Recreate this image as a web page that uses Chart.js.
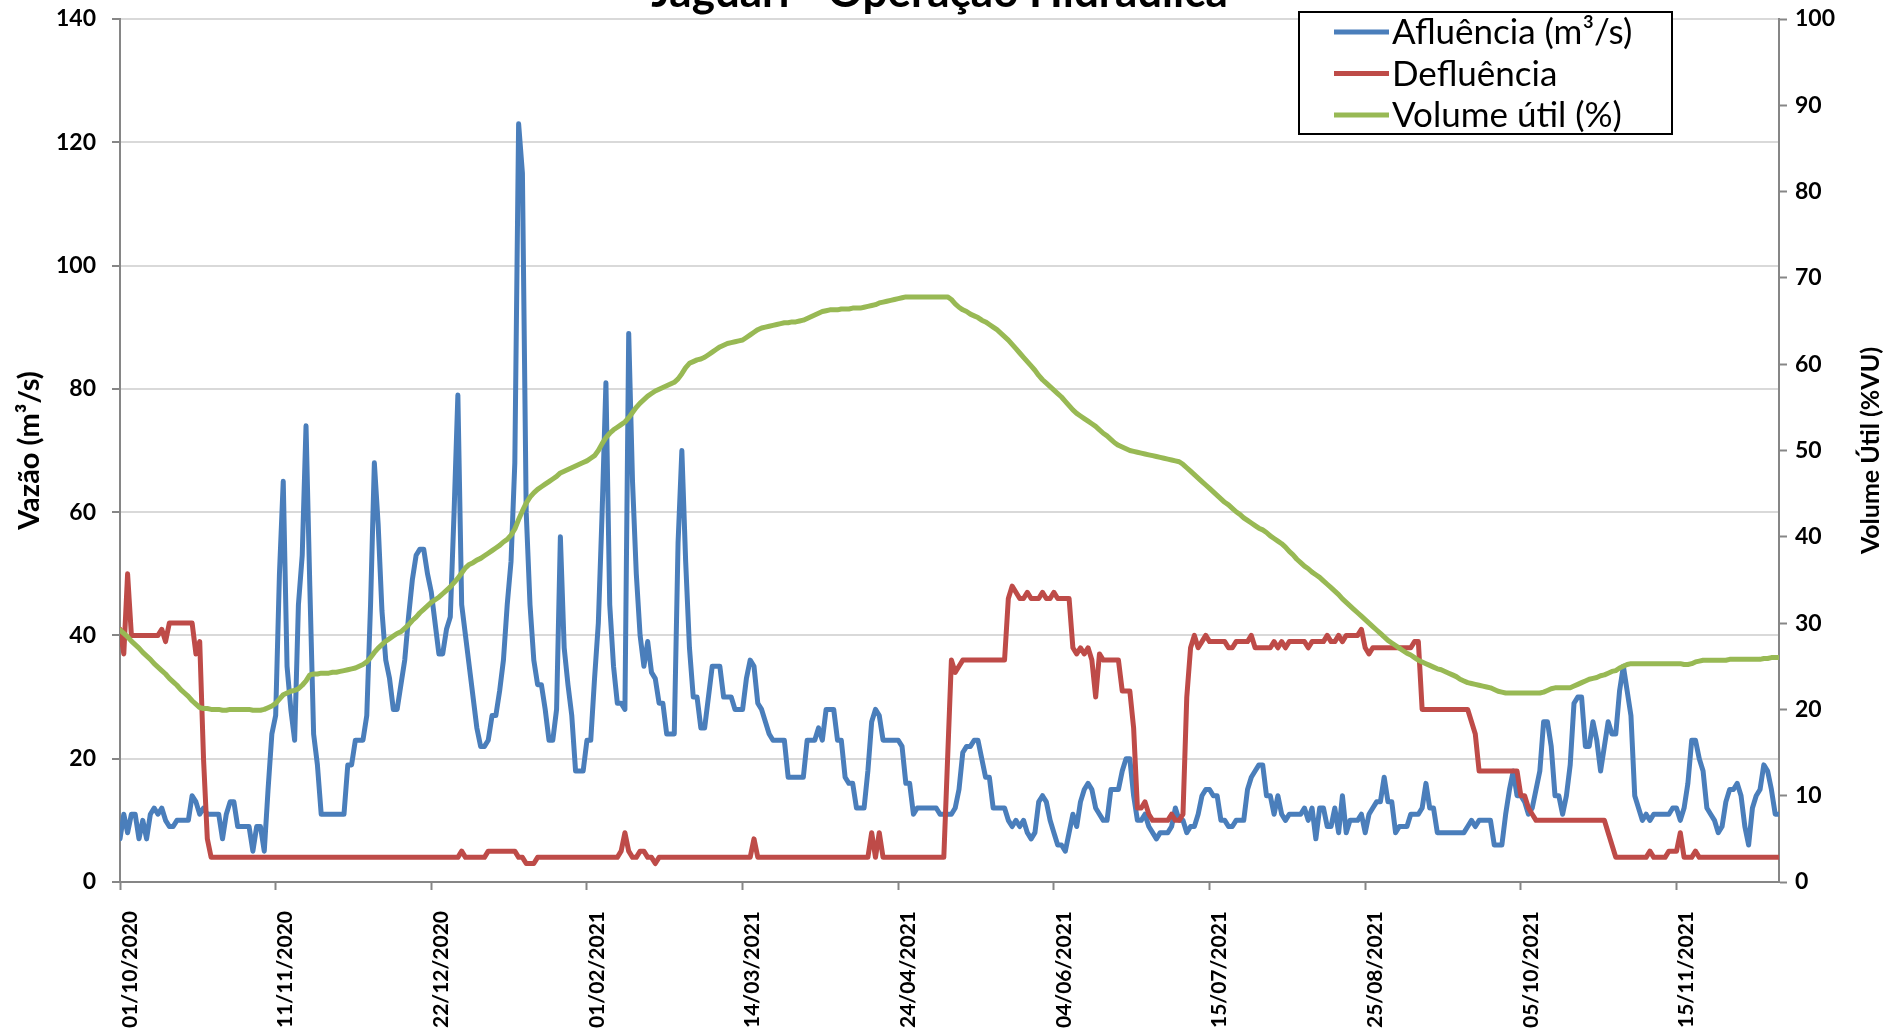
<!DOCTYPE html>
<html><head><meta charset="utf-8">
<script src="https://cdn.jsdelivr.net/npm/chart.js@4.4.1/dist/chart.umd.min.js"></script>
<style>html,body{margin:0;padding:0;background:#fff;overflow:hidden}#wrap{position:relative;width:1889px;height:1032px}</style>
</head><body><div id="wrap"><canvas id="c" width="1889" height="1032"></canvas></div>
<script>
const chartTitle = 'Jaguari - Operação Hidráulica';
const seriesNames = ['Afluência (m³/s)', 'Defluência', 'Volume útil (%)'];
const leftAxisTitle = 'Vazão (m³/s)';
const rightAxisTitle = 'Volume Útil (%VU)';
const xTickDays = [0, 41, 82, 123, 164, 205, 246, 287, 328, 369, 410];
const xTickLabels = ['01/10/2020','11/11/2020','22/12/2020','01/02/2021','14/03/2021','24/04/2021','04/06/2021','15/07/2021','25/08/2021','05/10/2021','15/11/2021'];
const leftTicksMax = 140, leftStep = 20, rightTicksMax = 100, rightStep = 10;

const afluencia = [
7,11,8,11,11,7,10,7,11,12,
11,12,10,9,9,10,10,10,10,14,
13,11,12,11,11,11,11,7,11,13,
13,9,9,9,9,5,9,9,5,15,
24,27,50,65,35,28,23,45,53,74,
48,24,19,11,11,11,11,11,11,11,
19,19,23,23,23,27,45,68,58,44,
36,33,28,28,32,36,43,49,53,54,
54,50,47,42,37,37,41,43,60,79,
45,40,35,30,25,22,22,23,27,27,
31,36,45,52,68,123,115,60,45,36,
32,32,28,23,23,28,56,38,32,27,
18,18,18,23,23,33,42,60,81,45,
35,29,29,28,89,65,50,40,35,39,
34,33,29,29,24,24,24,55,70,52,
38,30,30,25,25,30,35,35,35,30,
30,30,28,28,28,33,36,35,29,28,
26,24,23,23,23,23,17,17,17,17,
17,23,23,23,25,23,28,28,28,23,
23,17,16,16,12,12,12,18,26,28,
27,23,23,23,23,23,22,16,16,11,
12,12,12,12,12,12,11,11,11,11,
12,15,21,22,22,23,23,20,17,17,
12,12,12,12,10,9,10,9,10,8,
7,8,13,14,13,10,8,6,6,5,
8,11,9,13,15,16,15,12,11,10,
10,15,15,15,18,20,20,14,10,10,
11,9,8,7,8,8,8,9,12,10,
10,8,9,9,11,14,15,15,14,14,
10,10,9,9,10,10,10,15,17,18,
19,19,14,14,11,14,11,10,11,11,
11,11,12,10,12,7,12,12,9,9,
12,8,14,8,10,10,10,11,8,11,
12,13,13,17,13,13,8,9,9,9,
11,11,11,12,16,12,12,8,8,8,
8,8,8,8,8,9,10,9,10,10,
10,10,6,6,6,11,15,18,14,14,
13,11,12,15,18,26,26,22,14,14,
11,14,19,29,30,30,22,22,26,23,
18,22,26,24,24,31,35,31,27,14,
12,10,11,10,11,11,11,11,11,12,
12,10,12,16,23,23,20,18,12,11,
10,8,9,13,15,15,16,14,9,6,
12,14,15,19,18,15,11,11
];

const defluencia = [
41,37,50,40,40,40,40,40,40,40,
40,41,39,42,42,42,42,42,42,42,
37,39,20,7,4,4,4,4,4,4,
4,4,4,4,4,4,4,4,4,4,
4,4,4,4,4,4,4,4,4,4,
4,4,4,4,4,4,4,4,4,4,
4,4,4,4,4,4,4,4,4,4,
4,4,4,4,4,4,4,4,4,4,
4,4,4,4,4,4,4,4,4,4,
5,4,4,4,4,4,4,5,5,5,
5,5,5,5,5,4,4,3,3,3,
4,4,4,4,4,4,4,4,4,4,
4,4,4,4,4,4,4,4,4,4,
4,4,5,8,5,4,4,5,5,4,
4,3,4,4,4,4,4,4,4,4,
4,4,4,4,4,4,4,4,4,4,
4,4,4,4,4,4,4,7,4,4,
4,4,4,4,4,4,4,4,4,4,
4,4,4,4,4,4,4,4,4,4,
4,4,4,4,4,4,4,4,8,4,
8,4,4,4,4,4,4,4,4,4,
4,4,4,4,4,4,4,4,20,36,
34,35,36,36,36,36,36,36,36,36,
36,36,36,36,46,48,47,46,46,47,
46,46,46,47,46,46,47,46,46,46,
46,38,37,38,37,38,36,30,37,36,
36,36,36,36,31,31,31,25,12,12,
13,11,10,10,10,10,10,11,10,10,
11,30,38,40,38,39,40,39,39,39,
39,39,38,38,39,39,39,39,40,38,
38,38,38,38,39,38,39,38,39,39,
39,39,39,38,39,39,39,39,40,39,
39,40,39,40,40,40,40,41,38,37,
38,38,38,38,38,38,38,38,38,38,
38,39,39,28,28,28,28,28,28,28,
28,28,28,28,28,28,26,24,18,18,
18,18,18,18,18,18,18,18,18,14,
14,12,11,10,10,10,10,10,10,10,
10,10,10,10,10,10,10,10,10,10,
10,10,8,6,4,4,4,4,4,4,
4,4,4,5,4,4,4,4,5,5,
5,8,4,4,4,5,4,4,4,4,
4,4,4,4,4,4,4,4,4,4,
4,4,4,4,4,4,4,4
];

const volumeUtil = [
29.2,28.8,28.4,27.9,27.5,27.1,26.6,26.2,25.8,25.3,
24.9,24.5,24.1,23.6,23.2,22.8,22.3,21.9,21.5,21.0,
20.6,20.2,20.1,20.1,20.0,20.0,20.0,19.9,19.9,20.0,
20.0,20.0,20.0,20.0,20.0,19.9,19.9,19.9,20.0,20.2,
20.4,20.7,21.2,21.7,21.9,22.1,22.2,22.4,22.8,23.3,
24.0,24.1,24.1,24.2,24.2,24.2,24.3,24.3,24.4,24.5,
24.6,24.7,24.8,25.0,25.2,25.5,26.0,26.6,27.1,27.5,
27.9,28.2,28.5,28.8,29.0,29.4,29.8,30.3,30.7,31.2,
31.6,32.0,32.4,32.7,33.0,33.4,33.8,34.2,34.7,35.2,
35.8,36.4,36.8,37.0,37.3,37.5,37.8,38.1,38.4,38.7,
39.0,39.4,39.7,40.2,40.9,42.0,43.0,43.9,44.6,45.1,
45.5,45.8,46.1,46.4,46.7,47.0,47.4,47.6,47.8,48.0,
48.2,48.4,48.6,48.8,49.1,49.4,50.0,50.8,51.5,52.0,
52.4,52.7,53.0,53.3,53.8,54.4,55.0,55.5,55.9,56.3,
56.6,56.9,57.1,57.3,57.5,57.7,57.9,58.3,58.9,59.6,
60.1,60.3,60.5,60.6,60.8,61.1,61.4,61.7,62.0,62.2,
62.4,62.5,62.6,62.7,62.8,63.1,63.4,63.7,64.0,64.2,
64.3,64.4,64.5,64.6,64.7,64.8,64.8,64.9,64.9,65.0,
65.1,65.3,65.5,65.7,65.9,66.1,66.2,66.3,66.3,66.3,
66.4,66.4,66.4,66.5,66.5,66.5,66.6,66.7,66.8,66.9,
67.1,67.2,67.3,67.4,67.5,67.6,67.7,67.8,67.8,67.8,
67.8,67.8,67.8,67.8,67.8,67.8,67.8,67.8,67.8,67.5,
67.0,66.6,66.3,66.1,65.8,65.6,65.4,65.1,64.9,64.6,
64.3,64.0,63.6,63.2,62.8,62.3,61.8,61.3,60.8,60.3,
59.8,59.3,58.7,58.2,57.8,57.4,57.0,56.6,56.2,55.7,
55.2,54.7,54.3,54.0,53.7,53.4,53.1,52.8,52.4,52.0,
51.7,51.3,50.9,50.6,50.4,50.2,50.0,49.9,49.8,49.7,
49.6,49.5,49.4,49.3,49.2,49.1,49.0,48.9,48.8,48.7,
48.4,48.0,47.6,47.2,46.8,46.4,46.0,45.6,45.2,44.8,
44.4,44.0,43.7,43.3,42.9,42.6,42.2,41.9,41.6,41.3,
41.0,40.8,40.5,40.1,39.8,39.5,39.2,38.8,38.3,37.9,
37.4,37.0,36.6,36.3,35.9,35.6,35.3,34.9,34.5,34.1,
33.7,33.3,32.8,32.4,32.0,31.6,31.2,30.8,30.4,30.0,
29.6,29.2,28.8,28.4,28.0,27.7,27.4,27.1,26.8,26.5,
26.3,26.0,25.7,25.5,25.3,25.1,24.9,24.7,24.6,24.4,
24.2,24.0,23.8,23.5,23.3,23.1,23.0,22.9,22.8,22.7,
22.6,22.5,22.3,22.1,22.0,21.9,21.9,21.9,21.9,21.9,
21.9,21.9,21.9,21.9,21.9,22.0,22.2,22.4,22.5,22.5,
22.5,22.5,22.5,22.7,22.9,23.1,23.3,23.5,23.6,23.7,
23.9,24.0,24.2,24.4,24.5,24.8,25.0,25.2,25.3,25.3,
25.3,25.3,25.3,25.3,25.3,25.3,25.3,25.3,25.3,25.3,
25.3,25.3,25.2,25.2,25.3,25.5,25.6,25.7,25.7,25.7,
25.7,25.7,25.7,25.7,25.8,25.8,25.8,25.8,25.8,25.8,
25.8,25.8,25.8,25.9,25.9,26.0,26.0,26.0
];

const seriesColors = ['#4a7ebb', '#be4b48', '#98b954'];
const dayIndex = afluencia.map((_, i) => i);
const AXIS_GRAY = '#868686';
const GRID_GRAY = '#d9d9d9';
const FONT = 'Lato, "Open Sans", sans-serif';

Chart.defaults.font.family = FONT;

const decor = {
  id: 'decor',
  afterDraw(chart) {
    const {ctx, chartArea} = chart;
    ctx.save();
    ctx.fillStyle = '#000';
    ctx.font = 'bold 44px ' + FONT;
    ctx.textAlign = 'center';
    ctx.textBaseline = 'alphabetic';
    ctx.fillText(chartTitle, chart.width / 2 - 5, 7);

    ctx.save();
    ctx.translate(chart.width - 18, (chartArea.top + chartArea.bottom) / 2);
    ctx.rotate(-Math.PI / 2);
    ctx.font = 'bold 25px ' + FONT;
    ctx.textAlign = 'center';
    ctx.textBaseline = 'middle';
    ctx.fillText(rightAxisTitle, 0, 0);
    ctx.restore();

    const bx = 1299, by = 12, bw = 373, bh = 122;
    ctx.fillStyle = '#fff';
    ctx.fillRect(bx, by, bw, bh);
    ctx.strokeStyle = '#000';
    ctx.lineWidth = 2;
    ctx.strokeRect(bx, by, bw, bh);
    ctx.font = '35px ' + FONT;
    ctx.textAlign = 'left';
    ctx.textBaseline = 'middle';
    seriesNames.forEach((name, i) => {
      const yy = by + 20 + i * 41.5;
      ctx.strokeStyle = seriesColors[i];
      ctx.lineWidth = 5;
      ctx.lineCap = 'butt';
      ctx.beginPath();
      ctx.moveTo(bx + 35, yy);
      ctx.lineTo(bx + 90, yy);
      ctx.stroke();
      ctx.fillStyle = '#000';
      ctx.fillText(name, bx + 93, yy + 1);
    });
    ctx.restore();
  }
};

const noVertPad = s => { s.paddingTop = 0; s.paddingBottom = 0; };

new Chart(document.getElementById('c'), {
  type: 'line',
  data: {
    labels: dayIndex,
    datasets: [
      {label: seriesNames[0], data: afluencia, borderColor: seriesColors[0], backgroundColor: seriesColors[0], yAxisID: 'y', order: 2},
      {label: seriesNames[1], data: defluencia, borderColor: seriesColors[1], backgroundColor: seriesColors[1], yAxisID: 'y', order: 1},
      {label: seriesNames[2], data: volumeUtil, borderColor: seriesColors[2], backgroundColor: seriesColors[2], yAxisID: 'y1', order: 0}
    ]
  },
  options: {
    responsive: false,
    animation: false,
    layout: {padding: {top: 19, left: 0, right: 0, bottom: 0}},
    elements: {
      point: {radius: 0, hoverRadius: 0},
      line: {borderWidth: 5, tension: 0, borderJoinStyle: 'round', borderCapStyle: 'round', fill: false}
    },
    plugins: {legend: {display: false}, tooltip: {enabled: false}, title: {display: false}},
    scales: {
      x: {
        type: 'linear', min: 0, max: dayIndex.length - 1,
        afterBuildTicks: s => { s.ticks = xTickDays.map(v => ({value: v})); },
        afterFit: s => { s.height = 150; s.paddingLeft = 0; s.paddingRight = 0; },
        grid: {drawOnChartArea: false, drawTicks: true, tickLength: 8, tickColor: AXIS_GRAY, tickWidth: 2},
        border: {display: true, color: AXIS_GRAY, width: 2},
        ticks: {
          autoSkip: false, minRotation: 90, maxRotation: 90, padding: 21, labelOffset: 10, color: '#000',
          font: {size: 21, weight: 'bold'},
          callback: v => xTickLabels[xTickDays.indexOf(v)]
        }
      },
      y: {
        position: 'left', min: 0, max: leftTicksMax,
        afterFit: s => { s.width = 120; noVertPad(s); },
        ticks: {stepSize: leftStep, padding: 16, color: '#000', font: {size: 23, weight: 'bold'}},
        grid: {color: c => (c.tick && c.tick.value === 0) ? 'rgba(0,0,0,0)' : GRID_GRAY, lineWidth: 2, tickColor: AXIS_GRAY, tickLength: 8, tickWidth: 2},
        border: {display: true, color: AXIS_GRAY, width: 2},
        title: {display: true, text: leftAxisTitle, color: '#000', font: {size: 29, weight: 'bold'}, padding: {top: 12, bottom: 0}}
      },
      y1: {
        position: 'right', min: 0, max: rightTicksMax,
        afterFit: s => { s.width = 110; noVertPad(s); },
        ticks: {stepSize: rightStep, padding: 8, color: '#000', font: {size: 23, weight: 'bold'}},
        grid: {drawOnChartArea: false, tickColor: AXIS_GRAY, tickLength: 8, tickWidth: 2},
        border: {display: true, color: AXIS_GRAY, width: 2}
      }
    }
  },
  plugins: [decor]
});
</script>
</body></html>
